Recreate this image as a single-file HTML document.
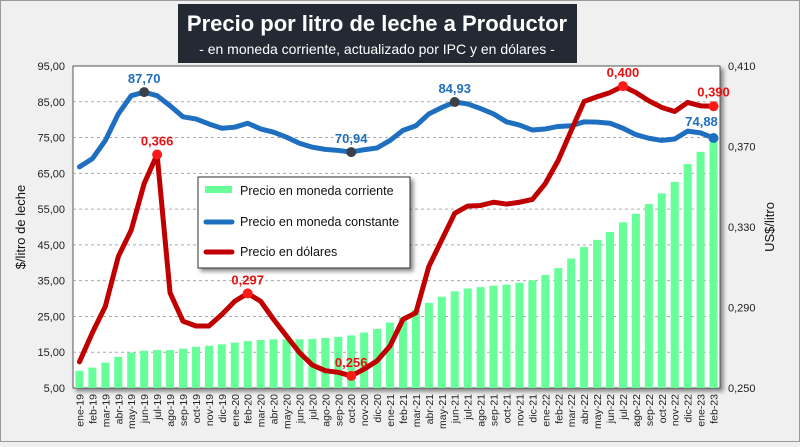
<!DOCTYPE html>
<html><head><meta charset="utf-8"><style>
html,body{margin:0;padding:0;background:#f0f0f0;}
body{width:800px;height:442px;overflow:hidden;font-family:"Liberation Sans",sans-serif;}
</style></head><body>
<svg id="chart" width="800" height="442" viewBox="0 0 800 442" xmlns="http://www.w3.org/2000/svg">
<defs>
<filter id="sh" x="-5%" y="-5%" width="115%" height="115%"><feDropShadow dx="3" dy="3" stdDeviation="2" flood-color="#000" flood-opacity="0.45"/></filter>
</defs>
<rect x="0.5" y="0.5" width="799" height="441" fill="#f0f0f0" stroke="#999"/>
<rect x="73" y="66" width="647" height="322" fill="#fff" stroke="#555" filter="url(#sh)"/>
<g id="grid"></g>
<g id="bars"></g>
<g id="lines"></g>
<g id="axes" font-size="11" fill="#222"></g>
<rect x="178" y="4" width="399" height="59" fill="#232a33"/>
<text x="377" y="31" text-anchor="middle" fill="#fff" font-size="22" font-weight="bold">Precio por litro de leche a Productor</text>
<text x="377" y="54" text-anchor="middle" fill="#fff" font-size="14">- en moneda corriente, actualizado por IPC y en dólares -</text>
<text transform="translate(25,227) rotate(-90)" text-anchor="middle" font-size="13" fill="#111">$/litro de leche</text>
<text transform="translate(774,227) rotate(-90)" text-anchor="middle" font-size="13" fill="#111">US$/litro</text>
<g>
<rect x="198" y="177" width="212" height="91" fill="#fff" stroke="#333" filter="url(#sh)"/>
<rect x="205" y="186" width="27" height="7" fill="#66ff99"/>
<text x="240" y="195" font-size="12.5" fill="#111">Precio en moneda corriente</text>
<line x1="206" y1="222" x2="232" y2="222" stroke="#1f6fc0" stroke-width="5" stroke-linecap="round"/>
<text x="240" y="226" font-size="12.5" fill="#111">Precio en moneda constante</text>
<line x1="206" y1="252" x2="232" y2="252" stroke="#c00000" stroke-width="5" stroke-linecap="round"/>
<text x="240" y="256" font-size="12.5" fill="#111">Precio en dólares</text>
</g>
</svg>
<script>
const months = ["ene-19","feb-19","mar-19","abr-19","may-19","jun-19","jul-19","ago-19","sep-19","oct-19","nov-19","dic-19","ene-20","feb-20","mar-20","abr-20","may-20","jun-20","jul-20","ago-20","sep-20","oct-20","nov-20","dic-20","ene-21","feb-21","mar-21","abr-21","may-21","jun-21","jul-21","ago-21","sep-21","oct-21","nov-21","dic-21","ene-22","feb-22","mar-22","abr-22","may-22","jun-22","jul-22","ago-22","sep-22","oct-22","nov-22","dic-22","ene-23","feb-23"];
const corriente = [9.8,10.7,12.1,13.7,14.9,15.4,15.6,15.6,16.0,16.5,16.8,17.2,17.7,18.1,18.4,18.6,18.6,18.6,18.7,19.0,19.3,19.7,20.5,21.5,23.3,24.8,26.8,28.8,30.5,32.0,32.8,33.2,33.6,33.9,34.4,35.1,36.6,38.5,41.2,44.4,46.4,48.6,51.3,53.7,56.4,59.4,62.6,67.6,71.0,74.6];
const constante = [66.8,69.1,74.2,81.6,86.7,87.7,86.7,83.9,80.8,80.2,78.8,77.6,77.9,79.0,77.4,76.5,75.1,73.4,72.3,71.7,71.4,70.94,71.6,72.1,74.2,77.0,78.3,81.6,83.4,84.93,84.4,83.1,81.6,79.4,78.5,77.1,77.4,78.1,78.3,79.4,79.3,79.0,77.6,75.8,74.8,74.2,74.6,76.8,76.3,74.88];
const dolares = [0.263,0.2775,0.2906,0.3153,0.3285,0.3516,0.366,0.2973,0.2832,0.2808,0.2808,0.2865,0.2931,0.297,0.2931,0.2841,0.2758,0.2676,0.2614,0.2586,0.2578,0.256,0.2594,0.2635,0.2709,0.2841,0.2874,0.3104,0.3236,0.3368,0.3404,0.3407,0.3423,0.3414,0.3423,0.3437,0.3516,0.3631,0.3779,0.3924,0.3947,0.3968,0.400,0.3968,0.3927,0.3894,0.3874,0.3919,0.3902,0.390];
const leftTicks = [5,15,25,35,45,55,65,75,85,95];
const rightTicks = [0.25,0.29,0.33,0.37,0.41];
const constLabels = [5,21,29,49];
const dolLabels = [6,13,21,42,49];

const NS="http://www.w3.org/2000/svg";
const X0=73,X1=720,Y0=66,Y1=388;
const slot=(X1-X0)/months.length;
const xS=i=>X0+slot*(i+0.5);
const yL=v=>Y1-(v-5)/(95-5)*(Y1-Y0);
const yR=v=>Y1-(v-0.25)/(0.41-0.25)*(Y1-Y0);
function mk(tag,attrs,parent,txt){const e=document.createElementNS(NS,tag);for(const k in attrs)e.setAttribute(k,attrs[k]);if(txt!==undefined)e.textContent=txt;parent.appendChild(e);return e;}
const fmt=(v,d)=>v.toFixed(d).replace('.',',');
const grid=document.getElementById('grid'),bars=document.getElementById('bars'),lines=document.getElementById('lines'),axes=document.getElementById('axes');

leftTicks.forEach(t=>{
  if(t>5&&t<95){const g=mk('line',{x1:X0,x2:X1,y1:yL(t),y2:yL(t),stroke:'#aaa','stroke-dasharray':'3,3'},grid);
  
  }
  const l=mk('text',{x:65,y:yL(t)+4,'text-anchor':'end'},axes,fmt(t,2));
  
  
});
rightTicks.forEach(t=>{
  const l=mk('text',{x:728,y:yR(t)+4},axes,fmt(t,3));
  
  
});
months.forEach((m,i)=>{
  const l=mk('text',{transform:`translate(${xS(i)+4},${Y1+6}) rotate(-90)`,'text-anchor':'end','font-size':'10.5'},axes,m);
  
  
});
corriente.forEach((v,i)=>{
  const w=slot*0.62;
  const r=mk('rect',{x:xS(i)-w/2,y:yL(v),width:w,height:Y1-yL(v),fill:'#66ff99'},bars);
  
  
});
const pC=mk('path',{d:constante.map((v,i)=>(i?'L':'M')+xS(i)+','+yL(v)).join(''),fill:'none',stroke:'#1f6fc0','stroke-width':5,'stroke-linejoin':'round','stroke-linecap':'round'},lines);


const pD=mk('path',{d:dolares.map((v,i)=>(i?'L':'M')+xS(i)+','+yR(v)).join(''),fill:'none',stroke:'#c00000','stroke-width':5,'stroke-linejoin':'round','stroke-linecap':'round'},lines);


constLabels.forEach(i=>{
  const last=i===constante.length-1;
  const c=mk('circle',{cx:xS(i),cy:yL(constante[i]),r:5,fill:last?'#1f6fc0':'#3a3f48'},lines);
  
  
  const t=mk('text',{x:last?xS(i)-12:xS(i),y:yL(constante[i])-(last?12:9),'text-anchor':'middle','font-size':'13','font-weight':'bold',fill:'#1f6fc0'},lines,fmt(constante[i],2));
  
  
});
dolLabels.forEach(i=>{
  const last=i===dolares.length-1;
  const c=mk('circle',{cx:xS(i),cy:yR(dolares[i]),r:5,fill:'#ff1a1a'},lines);
  
  
  const t=mk('text',{x:xS(i),y:yR(dolares[i])-(last?10:9),'text-anchor':'middle','font-size':'13','font-weight':'bold',fill:'#e81010'},lines,fmt(dolares[i],3));
  
  
});
</script>
</body></html>
